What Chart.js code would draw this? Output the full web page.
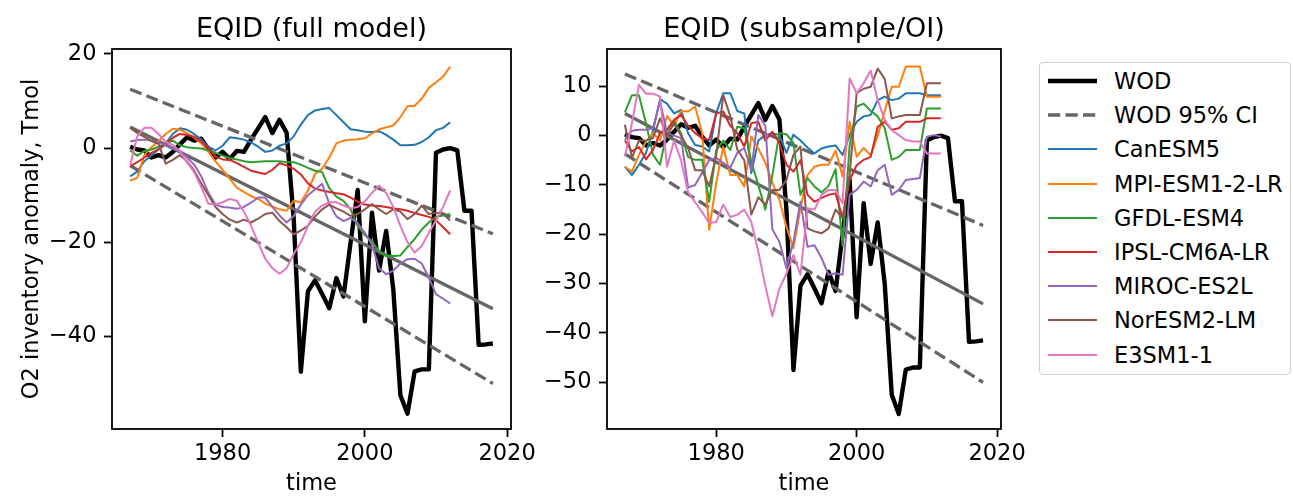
<!DOCTYPE html>
<html>
<head>
<meta charset="utf-8">
<title>EQID O2 inventory anomaly</title>
<script src="https://cdn.jsdelivr.net/npm/chart.js@4.4.1/dist/chart.umd.min.js"></script>
<style>
  html, body { margin: 0; padding: 0; background: #fff; }
  body { position: relative; width: 1293px; height: 498px; overflow: hidden; font-family: 'DejaVu Sans', sans-serif; }
  #chart-full { position: absolute; left: 0; top: 0; }
  #chart-oi { position: absolute; left: 540px; top: 0; }
  #legend { position: absolute; left: 1039px; top: 62px; width: 252px; height: 313px; box-sizing: border-box;
            border: 1px solid #d0d0d0; border-radius: 4px; background: #fff; }
  .leg-row { position: absolute; left: 0; height: 30px; width: 100%; }
  .leg-row svg { position: absolute; left: 7px; top: 10px; }
  .leg-row span { position: absolute; left: 74px; top: 0; line-height: 30px; font-size: 22.5px; color: #000; white-space: nowrap; }
</style>
</head>
<body>
<canvas id="chart-full" width="540" height="498"></canvas>
<canvas id="chart-oi" width="490" height="498"></canvas>
<div id="legend"></div>

<script>
// ============================================================================
// DATA
// ============================================================================

const wodYears = [1967, 1968, 1969, 1970, 1971, 1972, 1973, 1974, 1975, 1976,
  1977, 1978, 1979, 1980, 1981, 1982, 1983, 1984, 1985, 1986,
  1987, 1988, 1989, 1990, 1991, 1992, 1993, 1994, 1995, 1996,
  1997, 1998, 1999, 2000, 2001, 2002, 2003, 2004, 2005, 2006,
  2007, 2008, 2009, 2010, 2011, 2012, 2013, 2014, 2015, 2016, 2017, 2018];

const wodValues = [0.3, -0.3, -0.5, -2.0, -1.5, -2.0, -0.8, 0.8, 2.3, 1.6,
  2.0, -0.2, -2.0, -0.8, -2.3, -0.6, -0.8, 1.8, 4.2, 6.6,
  3.2, 6.0, 3.3, -15.0, -47.5, -30.4, -28.1, -31.0, -34.0, -27.6,
  -31.5, -20.0, -8.9, -36.8, -13.7, -26.0, -17.6, -30.0, -52.5, -56.4,
  -47.4, -47.0, -47.0, -1.0, -0.3, 0.0, -0.5, -13.3, -13.3, -41.8, -41.7, -41.5];

// linear trend of WOD and its 95% confidence bounds
const trendYears = [1967, 2018];
const trendMid = [4.5, -34.1];
const trendHigh = [12.5, -18.2];
const trendLow = [-3.7, -50.0];

const modelYears = [1967, 1968, 1969, 1970, 1971, 1972, 1973, 1974, 1975, 1976,
  1977, 1978, 1979, 1980, 1981, 1982, 1983, 1984, 1985, 1986,
  1987, 1988, 1989, 1990, 1991, 1992, 1993, 1994, 1995, 1996,
  1997, 1998, 1999, 2000, 2001, 2002, 2003, 2004, 2005, 2006,
  2007, 2008, 2009, 2010, 2011, 2012];

const modelNames = ['CanESM5', 'MPI-ESM1-2-LR', 'GFDL-ESM4', 'IPSL-CM6A-LR', 'MIROC-ES2L', 'NorESM2-LM', 'E3SM1-1'];
const modelColors = ['#1f77b4', '#ff7f0e', '#2ca02c', '#d62728', '#9467bd', '#8c564b', '#e377c2'];

// --- EQID (full model) ---
const canFull = [-6.0, -5.0, -2.8, -1.5, -0.3, 1.0, 3.0, 4.2, 3.9, 3.0,
  1.8, 0.3, -0.5, 0.5, 2.3, 2.1, 1.8, 1.2, 0.3, -0.8,
  -0.5, 0.5, 1.0, 2.5, 5.0, 7.0, 8.0, 8.3, 8.5, 7.0,
  5.5, 4.0, 3.8, 3.5, 3.4, 3.6, 2.8, 1.8, 0.6, 0.6,
  0.7, 1.3, 2.3, 3.8, 4.3, 5.5];
const mpiFull = [-6.9, -6.3, -1.5, 0.2, 1.5, 3.0, 4.1, 3.9, 3.2, 2.2,
  1.0, -0.8, -2.8, -4.6, -6.5, -8.4, -9.3, -10.2, -10.8, -11.8,
  -12.4, -13.0, -13.3, -11.2, -11.5, -9.0, -5.5, -4.4, -2.0, 1.0,
  1.6, 1.8, 1.9, 2.1, 3.1, 4.0, 4.4, 4.8, 6.6, 8.9,
  9.0, 10.5, 12.8, 14.0, 15.2, 17.3];
const gfdlFull = [-0.5, -1.6, -0.6, -0.3, 0.3, 0.9, 1.6, 0.6, 0.2, 0.0,
  -0.1, -0.5, -1.0, -1.6, -2.1, -2.4, -2.8, -3.0, -2.9, -2.8,
  -2.8, -2.8, -3.0, -3.0, -3.5, -4.2, -4.8, -5.1, -8.5, -10.3,
  -11.2, -13.0, -16.5, -18.5, -19.8, -22.0, -22.8, -22.9, -22.8, -21.0,
  -19.3, -17.3, -15.8, -14.6, -14.3, -14.0];
const ipslFull = [-3.9, -3.0, -2.0, -1.0, -0.2, 0.8, 2.2, 3.0, 2.8, 2.4,
  1.4, 0.0, -1.8, -2.4, -2.5, -3.2, -4.0, -4.8, -5.2, -5.5,
  -4.6, -3.2, -3.7, -4.4, -5.6, -7.5, -8.6, -9.0, -9.3, -9.6,
  -9.8, -10.5, -11.4, -12.0, -12.2, -12.3, -12.5, -12.8, -13.0, -13.3,
  -13.8, -14.2, -14.6, -15.3, -16.8, -18.3];
const mirocFull = [1.4, 1.7, 1.8, 1.6, 1.2, 0.6, 0.0, -0.6, -2.0, -3.5,
  -6.0, -9.5, -12.0, -12.5, -12.6, -12.9, -12.5, -11.6, -10.5, -10.5,
  -12.5, -14.3, -15.8, -14.4, -12.0, -10.0, -8.8, -7.6, -11.8, -14.5,
  -15.5, -14.8, -16.0, -18.0, -20.5, -25.5, -26.8, -26.0, -24.5, -23.6,
  -23.5, -24.5, -27.5, -31.0, -32.0, -33.0];
const norFull = [4.3, 3.2, 2.4, 1.5, 0.9, -3.3, -2.5, -1.5, -2.8, -4.8,
  -7.5, -10.0, -12.5, -14.0, -15.2, -15.8, -15.2, -15.8, -15.0, -14.0,
  -13.7, -15.5, -16.8, -18.3, -17.5, -16.5, -14.5, -13.0, -12.0, -12.8,
  -13.5, -14.4, -14.0, -13.0, -11.9, -13.0, -14.0, -13.0, -13.5, -15.1,
  -14.0, -12.2, -14.0, -13.7, -14.0, -15.4];
const e3smFull = [-3.7, 2.5, 4.3, 4.3, 3.0, 1.3, 0.7, -0.7, -3.0, -5.1,
  -8.3, -11.8, -12.0, -11.5, -10.8, -11.2, -13.5, -16.5, -20.0, -23.5,
  -25.5, -26.7, -25.5, -22.5, -20.0, -16.5, -13.5, -12.2, -11.5, -11.5,
  -12.2, -12.8, -12.5, -11.3, -9.5, -8.0, -9.5, -12.5, -16.5, -20.0,
  -22.2, -20.8, -18.0, -15.4, -12.5, -9.0];

// --- EQID (subsample/OI) ---
const canOI = [-6.3, -8.0, -5.9, -3.5, 1.0, 7.4, 6.5, 4.5, 5.2, 0.5,
  -1.9, -2.2, -3.2, 4.5, 8.6, 8.6, 5.0, 4.5, -7.6, -1.0,
  0.1, 0.5, 0.1, -3.5, 0.2, -1.0, -2.4, -3.6, -2.6, -2.2,
  -2.0, -3.9, 0.1, 2.8, 3.9, 4.2, 7.2, 7.9, 7.2, 7.5,
  8.6, 8.6, 8.6, 8.2, 8.2, 8.2];
const mpiOI = [-6.3, -7.3, -3.9, -1.2, 0.5, -1.0, 4.0, 2.0, 5.0, 4.9,
  5.9, 0.5, -19.1, -9.6, -2.2, -8.0, -8.0, -10.3, -0.2, -2.6,
  -5.5, -9.5, -13.0, -18.5, -22.8, -14.7, -8.0, -6.3, -5.9, -5.9,
  -3.0, -8.3, 2.8, -4.3, -2.5, -4.0, 0.0, 5.0, 9.9, 9.9,
  14.0, 14.0, 14.0, 7.9, 7.9, 7.9];
const gfdlOI = [4.7, 8.2, 8.2, 2.5, -3.9, -5.9, 1.0, 3.0, 0.5, -4.3,
  -4.9, -4.9, -13.4, -3.0, -1.0, -2.9, 1.8, 1.5, -5.3, -10.0,
  -15.0, -8.0, 0.5, 0.3, -1.5, -12.0, -8.6, -10.3, -11.5, -10.2,
  -6.8, -22.3, -2.0, 5.9, 6.5, 5.0, 3.9, 1.5, -4.9, -4.3,
  -2.9, -2.9, -2.9, 5.5, 5.5, 5.5];
const ipslOI = [-1.0, -3.2, -2.3, -4.8, -2.9, 0.5, 1.2, 3.2, 4.2, 2.0,
  0.5, -0.5, -0.9, 4.5, 4.9, 2.0, 0.5, -2.2, 2.5, 2.8,
  -1.0, 0.8, -1.5, -5.9, -7.3, -5.0, -12.0, -13.4, -12.6, -12.0,
  -11.7, -16.7, -9.0, -6.0, -4.9, -4.3, 1.8, 2.8, 1.2, 1.5,
  2.8, 2.8, 2.8, 3.5, 3.5, 3.5];
const mirocOI = [-0.9, 1.0, 1.2, 1.2, 1.5, 7.0, 0.5, 0.0, -0.5, -10.5,
  -10.0, -7.5, -5.0, -4.5, -5.5, -6.5, -3.5, -2.5, -7.0, 4.2,
  2.0, -19.0, -21.5, -26.9, -21.5, -13.4, -22.5, -22.2, -24.8, -28.2,
  -27.9, -28.2, -12.0, -11.0, -9.3, -10.3, -7.0, -5.9, -12.0, -11.0,
  -9.0, -8.8, -8.6, -0.2, 0.1, -0.2];
const norOI = [2.2, -4.5, -1.0, -1.0, -0.5, 3.5, 0.0, 2.5, 0.0, -2.5,
  -7.0, -7.0, -10.3, -4.0, 8.2, 4.0, -2.8, -5.0, -16.0, -12.5,
  -14.0, -11.0, -11.0, -9.0, -3.9, -2.2, -18.8, -19.4, -19.8, -18.8,
  -15.0, -16.7, -8.0, 8.6, 9.5, 9.9, 13.6, 11.5, 3.5, 3.9,
  4.2, 4.2, 4.2, 10.6, 10.6, 10.6];
const e3smOI = [-4.2, 2.5, 10.3, 8.5, 8.5, 7.9, -6.3, -1.0, -5.0, -11.5,
  -13.5, -15.5, -17.7, -17.5, -14.0, -16.5, -16.0, -15.0, -17.5, -23.5,
  -30.5, -36.6, -31.0, -28.0, -24.2, -28.2, -14.7, -15.0, -12.0, -11.0,
  -11.0, -13.7, 11.6, 8.6, 10.6, 13.2, 7.2, 3.2, 1.1, 0.1,
  -0.9, -1.2, -1.2, -3.6, -3.6, -3.6];

// axis ticks
const xTicks = [1980, 2000, 2020];
const yTicksFull = [-40, -20, 0, 20];
const yTicksOI = [-50, -40, -30, -20, -10, 0, 10];

// ============================================================================
// CHART HELPERS
// ============================================================================

const FONT = "'DejaVu Sans', sans-serif";
const tickFont = { family: FONT, size: 22.5 };
const TREND_GREY = '#666666';

const framePlugin = {
  id: 'frame',
  afterDraw(chart) {
    const { ctx, chartArea: a } = chart;
    ctx.save();
    ctx.strokeStyle = '#000';
    ctx.lineWidth = 1.8;
    ctx.strokeRect(a.left, a.top, a.right - a.left, a.bottom - a.top);
    ctx.restore();
  }
};

function toPoints(xs, ys) {
  return xs.map((x, i) => ({ x: x, y: ys[i] }));
}

function minusLabel(v) {
  return v < 0 ? '\u2212' + Math.abs(v) : String(v);
}

function buildDatasets(models) {
  const base = { pointRadius: 0, fill: false, tension: 0, borderJoinStyle: 'round' };
  const sets = [
    { ...base, label: 'WOD', data: toPoints(wodYears, wodValues), borderColor: '#000', borderWidth: 4.4, order: 20 },
    { ...base, label: 'trend', data: toPoints(trendYears, trendMid), borderColor: TREND_GREY, borderWidth: 3.3, order: 19 },
    { ...base, label: 'WOD 95% CI', data: toPoints(trendYears, trendHigh), borderColor: TREND_GREY, borderWidth: 3.3,
      borderDash: [12.2, 5.3], order: 18 },
    { ...base, label: 'WOD 95% CI low', data: toPoints(trendYears, trendLow), borderColor: TREND_GREY, borderWidth: 3.3,
      borderDash: [12.2, 5.3], order: 17 }
  ];
  models.forEach((vals, i) => {
    sets.push({ ...base, label: modelNames[i], data: toPoints(modelYears, vals),
      borderColor: modelColors[i], borderWidth: 2, order: 10 - i });
  });
  return sets;
}

function makePanel(canvasId, opts) {
  const ctx = document.getElementById(canvasId).getContext('2d');
  return new Chart(ctx, {
    type: 'line',
    data: { datasets: buildDatasets(opts.models) },
    options: {
      responsive: false,
      animation: false,
      layout: { padding: { left: 0, right: opts.rightPad, top: 0, bottom: 0 } },
      plugins: {
        legend: { display: false },
        tooltip: { enabled: false },
        title: {
          display: true, text: opts.title, color: '#000', fullSize: false,
          font: { family: FONT, size: 27, weight: 'normal' },
          padding: { top: 14, bottom: 2.6 }
        }
      },
      scales: {
        x: {
          type: 'linear', min: 1964.45, max: 2020.55,
          afterBuildTicks: s => { s.ticks = xTicks.map(v => ({ value: v })); },
          afterFit: s => { s.height = 69; },
          grid: { drawOnChartArea: false, drawTicks: true, tickLength: 8, tickWidth: 1.8, tickColor: '#000' },
          border: { display: false },
          ticks: { font: tickFont, color: '#000', padding: 4, maxRotation: 0, callback: v => String(v) },
          title: { display: true, text: 'time', color: '#000', font: tickFont, padding: { top: 0, bottom: 0 } }
        },
        y: {
          type: 'linear', min: opts.yMin, max: opts.yMax,
          afterBuildTicks: s => { s.ticks = opts.yTicks.map(v => ({ value: v })); },
          afterFit: s => { s.width = opts.yWidth; },
          grid: { drawOnChartArea: false, drawTicks: true, tickLength: 8, tickWidth: 1.8, tickColor: '#000' },
          border: { display: false },
          ticks: { font: tickFont, color: '#000', padding: 7.5, callback: minusLabel },
          title: { display: !!opts.yTitle, text: opts.yTitle || '', color: '#000', font: tickFont,
                   padding: { top: 19, bottom: 0 } }
        }
      }
    },
    plugins: [framePlugin]
  });
}

// ============================================================================
// RENDER
// ============================================================================

makePanel('chart-full', {
  title: 'EQID (full model)',
  models: [canFull, mpiFull, gfdlFull, ipslFull, mirocFull, norFull, e3smFull],
  yMin: -59.66, yMax: 21.05, yTicks: yTicksFull, yWidth: 112, rightPad: 16,
  yTitle: 'O2 inventory anomaly, Tmol'
});

makePanel('chart-oi', {
  title: 'EQID (subsample/OI)',
  models: [canOI, mpiOI, gfdlOI, ipslOI, mirocOI, norOI, e3smOI],
  yMin: -59.46, yMax: 17.56, yTicks: yTicksOI, yWidth: 67, rightPad: 9
});

// HTML legend
const legendEntries = [
  { name: 'WOD', color: '#000', width: 4.4, dash: null },
  { name: 'WOD 95% CI', color: TREND_GREY, width: 3.3, dash: '12.2 5.3' }
].concat(modelNames.map((n, i) => ({ name: n, color: modelColors[i], width: 2, dash: null })));

const legendEl = document.getElementById('legend');
legendEntries.forEach((e, i) => {
  const row = document.createElement('div');
  row.className = 'leg-row';
  row.style.top = (3 + i * 34.2) + 'px';
  const dashAttr = e.dash ? ` stroke-dasharray="${e.dash}"` : '';
  row.innerHTML = `<svg width="50" height="10"><line x1="1" y1="5" x2="50" y2="5" stroke="${e.color}" ` +
    `stroke-width="${e.width}"${dashAttr}/></svg><span>${e.name}</span>`;
  legendEl.appendChild(row);
});
</script>
</body>
</html>
